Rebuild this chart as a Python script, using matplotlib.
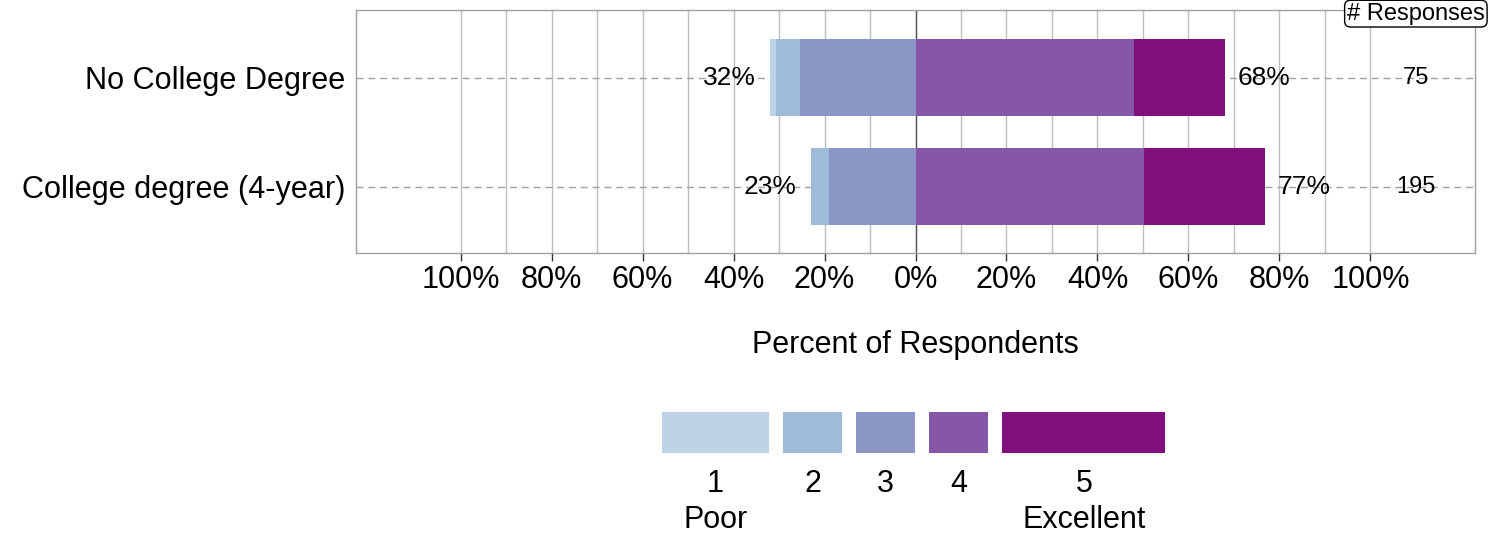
import numpy as np
import matplotlib.pyplot as plt
from matplotlib.patches import Rectangle
from matplotlib.transforms import blended_transform_factory

plt.rcParams['font.family'] = ['Liberation Sans', 'DejaVu Sans']

# data: number of responses per rating level (1 = Poor ... 5 = Excellent)
categories = ['No College Degree', 'College degree (4-year)']
levels = ['1', '2', '3', '4', '5']
level_names = ['Poor', '', '', '', 'Excellent']
no_college = [1, 4, 19, 36, 15]
college = [0, 8, 37, 98, 52]
colors = ['#BFD3E6', '#9EBCDA', '#8C96C6', '#8856A7', '#810F7C']

counts = np.array([no_college, college], dtype=float)
n_resp = counts.sum(axis=1)
pct = counts / n_resp[:, None] * 100
ypos = np.array([1, 0])

fig = plt.figure(figsize=(14.91, 5.4), dpi=100)
ax = fig.add_axes([356 / 1491, 1 - 253 / 540, (1475 - 356) / 1491, 243 / 540])

# grid behind everything
for x in range(-100, 101, 10):
    ax.axvline(x, color='#BEBEBE', lw=1, zorder=0)
ax.axvline(0, color='#555555', lw=1, zorder=0.2)
for y in ypos:
    ax.axhline(y, color='#A0A0A0', lw=1, ls=(0, (5, 3.5)), zorder=0.5)

# negative side: levels 3, 2, 1 going left from zero
start = np.zeros(len(ypos))
for j in [2, 1, 0]:
    ax.barh(ypos, pct[:, j], left=start - pct[:, j], height=0.71,
            color=colors[j], edgecolor='none', zorder=2)
    start = start - pct[:, j]
neg_total = -start

# positive side: levels 4, 5
start = np.zeros(len(ypos))
for j in [3, 4]:
    ax.barh(ypos, pct[:, j], left=start, height=0.71,
            color=colors[j], edgecolor='none', zorder=2)
    start = start + pct[:, j]
pos_total = start

for i, y in enumerate(ypos):
    ax.annotate(f'{neg_total[i]:.0f}%', xy=(-neg_total[i], y), xytext=(-10, 0),
                textcoords='offset points', ha='right', va='center',
                fontsize=19, zorder=3)
    ax.annotate(f'{pos_total[i]:.0f}%', xy=(pos_total[i], y), xytext=(9, 0),
                textcoords='offset points', ha='left', va='center',
                fontsize=19, zorder=3)
    ax.text(110, y, f'{n_resp[i]:.0f}', ha='center', va='center',
            fontsize=17, zorder=3)

trans = blended_transform_factory(ax.transData, ax.transAxes)
ax.text(110, 0.985, '# Responses', transform=trans, ha='center', va='center',
        fontsize=17, clip_on=False, zorder=5,
        bbox=dict(boxstyle='round,pad=0.1,rounding_size=0.25', fc='white', ec='black', lw=1))

ax.set_xlim(-123, 123)
ax.set_ylim(-0.61, 1.62)
ticks = np.arange(-100, 101, 20)
ax.set_xticks(ticks)
ax.set_xticklabels([f'{abs(t)}%' for t in ticks])
ax.tick_params(axis='x', labelsize=22, length=6, width=1, color='#333333', pad=3)
ax.set_yticks(ypos)
ax.set_yticklabels(categories)
ax.tick_params(axis='y', labelsize=22.1, length=0, pad=8)
for s in ax.spines.values():
    s.set_color('#A0A0A0')
    s.set_linewidth(1)
ax.set_xlabel('Percent of Respondents', fontsize=22, labelpad=25)

# legend drawn in its own axes (units = pixels)
lax = fig.add_axes([662 / 1491, 0, 503 / 1491, 140 / 540])
lax.set_xlim(0, 503)
lax.set_ylim(0, 140)
lax.axis('off')
key_widths = [107, 59, 59, 59, 164]
x0 = 0
for j in range(len(levels)):
    lax.add_patch(Rectangle((x0, 87), key_widths[j], 41, color=colors[j], lw=0))
    cx = x0 + key_widths[j] / 2
    lax.text(cx, 56, levels[j], ha='center', va='center', fontsize=22)
    if level_names[j]:
        lax.text(cx, 20, level_names[j], ha='center', va='center', fontsize=22)
    x0 += key_widths[j] + 14

fig.savefig('out.png', dpi=100)
